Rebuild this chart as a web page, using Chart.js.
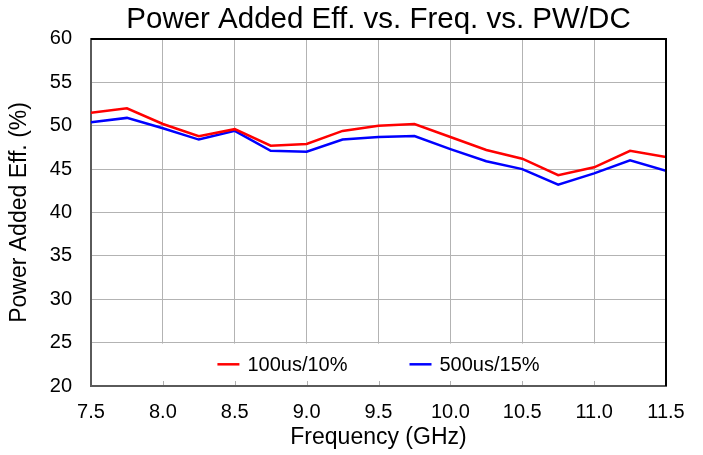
<!DOCTYPE html>
<html>
<head>
<meta charset="utf-8">
<script src="https://cdn.jsdelivr.net/npm/chart.js@4"></script>
<style>
  html, body { margin: 0; padding: 0; background: #fff; }
  #wrap { width: 703px; height: 455px; }
</style>
</head>
<body>
<div id="wrap"><canvas id="paeChart" width="703" height="455"></canvas></div>
<script>
// frequency points (GHz)
const freqGHz = [7.5, 7.75, 8.0, 8.25, 8.5, 8.75, 9.0, 9.25, 9.5, 9.75, 10.0, 10.25, 10.5, 10.75, 11.0, 11.25, 11.5];
// PAE (%) for each pulse width / duty cycle
const pae100us10 = [51.5, 52.0, 50.2, 48.8, 49.6, 47.7, 47.9, 49.4, 50.0, 50.2, 48.7, 47.2, 46.2, 44.3, 45.2, 47.1, 46.4];
const pae500us15 = [50.4, 50.9, 49.7, 48.4, 49.4, 47.1, 47.0, 48.4, 48.7, 48.8, 47.3, 45.9, 45.0, 43.2, 44.5, 46.0, 44.8];
const seriesLabels = ["100us/10%", "500us/15%"];
const seriesColors = ["#ff0000", "#0000ff"];

const FONT = "'Liberation Sans', Arial, sans-serif";

function toPoints(vals) {
    return vals.map((v, i) => ({ x: freqGHz[i], y: v }));
}

// white legend panel sitting in the bottom band of the plot
const legendPanel = {
    id: "legendPanel",
    beforeDatasetsDraw(chart) {
        const { ctx, chartArea, scales } = chart;
        const top = scales.y.getPixelForValue(25) + 1;
        const bottom = chartArea.bottom - 1;
        const left = chartArea.left + 64;
        ctx.save();
        ctx.fillStyle = "#fff";
        ctx.fillRect(left, top, chartArea.right - left, bottom - top);

        // small inside tick marks along the bottom axis
        ctx.strokeStyle = "#b0b0b0";
        ctx.lineWidth = 1;
        scales.x.ticks.forEach(t => {
            const px = Math.round(scales.x.getPixelForValue(t.value)) + 0.5;
            if (px > left && px < chartArea.right - 2) {
                ctx.beginPath();
                ctx.moveTo(px, bottom);
                ctx.lineTo(px, bottom - 4);
                ctx.stroke();
            }
        });

        // legend entries
        ctx.font = "20px " + FONT;
        ctx.textBaseline = "middle";
        const lineLen = 22, gap = 8, itemGap = 62;
        const widths = seriesLabels.map(s => lineLen + gap + ctx.measureText(s).width);
        const total = widths.reduce((a, b) => a + b, 0) + itemGap * (widths.length - 1);
        let x = (chartArea.left + chartArea.right) / 2 - total / 2;
        const y = (top + bottom) / 2;
        seriesLabels.forEach((s, i) => {
            ctx.strokeStyle = seriesColors[i];
            ctx.lineWidth = 2.5;
            ctx.beginPath();
            ctx.moveTo(x, y);
            ctx.lineTo(x + lineLen, y);
            ctx.stroke();
            ctx.fillStyle = "#000";
            ctx.fillText(s, x + lineLen + gap, y + 1);
            x += widths[i] + itemGap;
        });
        ctx.restore();
    },
    // black frame on the top and right sides
    afterDraw(chart) {
        const { ctx, chartArea } = chart;
        ctx.save();
        ctx.strokeStyle = "#000";
        ctx.lineWidth = 2;
        ctx.beginPath();
        ctx.moveTo(chartArea.left, chartArea.top);
        ctx.lineTo(chartArea.right, chartArea.top);
        ctx.lineTo(chartArea.right, chartArea.bottom);
        ctx.stroke();
        ctx.restore();
    }
};

new Chart(document.getElementById("paeChart"), {
    type: "line",
    data: {
        datasets: [
            { label: seriesLabels[0], data: toPoints(pae100us10), borderColor: seriesColors[0], borderWidth: 2.5, pointRadius: 0, tension: 0 },
            { label: seriesLabels[1], data: toPoints(pae500us15), borderColor: seriesColors[1], borderWidth: 2.5, pointRadius: 0, tension: 0 }
        ]
    },
    options: {
        responsive: false,
        animation: false,
        layout: { padding: { left: 0, right: 37, top: 0, bottom: 0 } },
        plugins: {
            legend: { display: false },
            tooltip: { enabled: false },
            title: {
                display: true,
                fullSize: false,
                text: "Power Added Eff. vs. Freq. vs. PW/DC",
                color: "#000",
                font: { family: FONT, size: 29.5, weight: "normal", lineHeight: 1.15 },
                padding: { top: 3, bottom: 2 }
            }
        },
        scales: {
            x: {
                type: "linear",
                min: 7.5,
                max: 11.5,
                afterFit(scale) { scale.height = 69; },
                ticks: {
                    stepSize: 0.5,
                    color: "#000",
                    padding: 14,
                    maxRotation: 0,
                    font: { family: FONT, size: 20 },
                    callback: v => v.toFixed(1)
                },
                grid: { color: "#b3b3b3", lineWidth: 1, drawTicks: false },
                border: { color: "#5a5a5a", width: 2 },
                title: {
                    display: true,
                    text: "Frequency (GHz)",
                    color: "#000",
                    font: { family: FONT, size: 23, lineHeight: 1.2 },
                    padding: { top: 0, bottom: 4 }
                }
            },
            y: {
                min: 20,
                max: 60,
                afterFit(scale) { scale.width = 91; },
                ticks: {
                    stepSize: 5,
                    color: "#000",
                    padding: 19,
                    font: { family: FONT, size: 20 }
                },
                grid: { color: "#b3b3b3", lineWidth: 1, drawTicks: false },
                border: { color: "#5a5a5a", width: 2 },
                title: {
                    display: true,
                    text: "Power Added Eff. (%)",
                    color: "#000",
                    font: { family: FONT, size: 23, lineHeight: 1.2 },
                    padding: { top: 6, bottom: 0 }
                }
            }
        }
    },
    plugins: [legendPanel]
});
</script>
</body>
</html>
